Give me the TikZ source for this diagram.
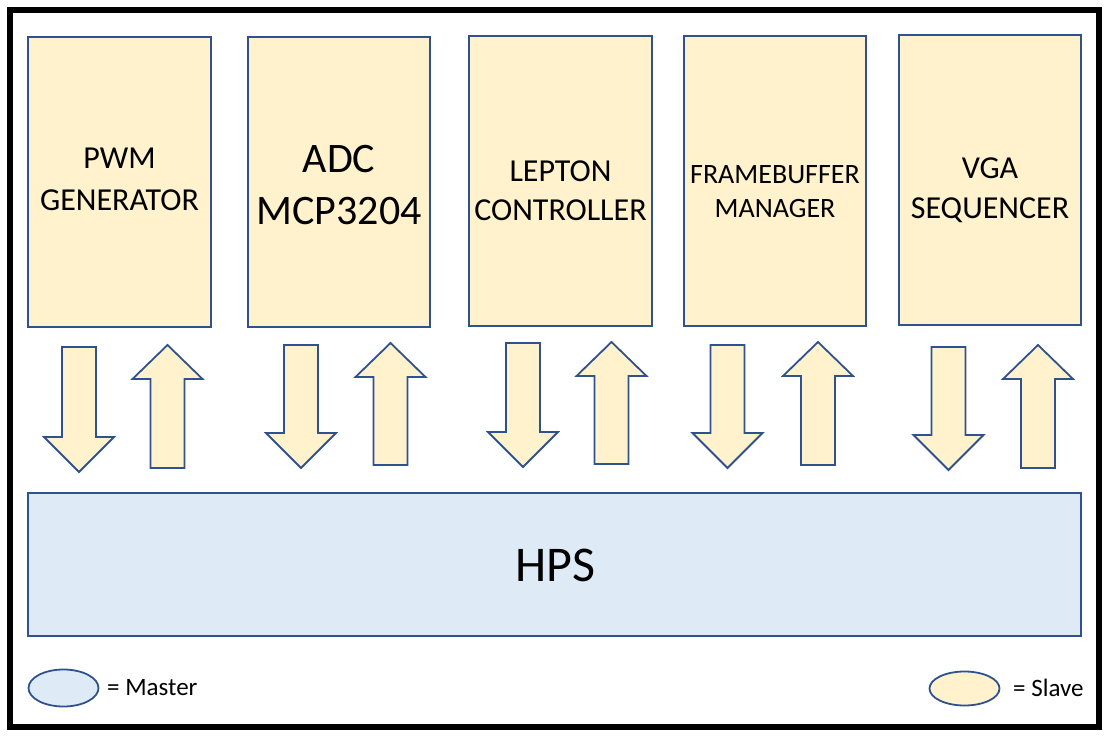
\documentclass[tikz,border=0pt]{standalone}
\usepackage{fontspec}
\setmainfont{Carlito}
\usetikzlibrary{shapes.geometric}
\definecolor{slavefill}{HTML}{FFF2CC}
\definecolor{masterfill}{HTML}{DEEBF7}
\definecolor{edgeblue}{HTML}{2F528F}
\newcommand{\dnarr}[4]{% cx, top, head, tip
  \draw[blockarrow] ({#1-17},#2) -- ({#1+17},#2) -- ({#1+17},#3) -- ({#1+35},#3) -- (#1,#4) -- ({#1-35},#3) -- ({#1-17},#3) -- cycle;}
\newcommand{\uparr}[4]{% cx, tip, head, bottom
  \draw[blockarrow] (#1,#2) -- ({#1+35},#3) -- ({#1+17},#3) -- ({#1+17},#4) -- ({#1-17},#4) -- ({#1-17},#3) -- ({#1-35},#3) -- cycle;}
\begin{document}
\begin{tikzpicture}[x=1pt,y=-1pt,
  slave/.style={draw=edgeblue, fill=slavefill, line width=1.8pt, inner sep=0pt},
  master/.style={draw=edgeblue, fill=masterfill, line width=1.8pt, inner sep=0pt},
  lbl/.style={align=center, text depth=0pt, inner sep=0pt},
  blockarrow/.style={draw=edgeblue, fill=slavefill, line width=1.8pt, line join=miter},
  keytext/.style={anchor=base west, inner sep=0pt, font=\fontsize{25}{30}\selectfont}]
\useasboundingbox (0,0) rectangle (1109,737);
\draw[line width=6pt] (10,10) rectangle (1099,727);

% slave blocks
\node[slave, minimum width=183pt, minimum height=290pt] (pwm) at (119.5,182) {};
\node[slave, minimum width=182pt, minimum height=290pt] (adc) at (339,182) {};
\node[slave, minimum width=183pt, minimum height=290pt] (lep) at (560.5,181) {};
\node[slave, minimum width=182pt, minimum height=290pt] (fb) at (775,181) {};
\node[slave, minimum width=182pt, minimum height=290pt] (vga) at (990,180) {};

\node[lbl, font=\fontsize{32}{42}\selectfont] (pwmL) at (119.5,179) {PWM\\GENERATOR};
\node[lbl, font=\fontsize{42}{52}\selectfont] (adcL) at (339,184.5) {ADC\\MCP3204};
\node[lbl, font=\fontsize{32}{39}\selectfont] (lepL) at (560.5,190.5) {LEPTON\\CONTROLLER};
\node[lbl, font=\fontsize{28}{34}\selectfont] (fbL) at (775,192) {FRAMEBUFFER\\MANAGER};
\node[lbl, font=\fontsize{32}{40}\selectfont] (vgaL) at (990,188) {VGA\\SEQUENCER};

% master block
\node[master, minimum width=1053pt, minimum height=143pt] (hps) at (554.5,564.5) {};
\node[lbl, font=\fontsize{50}{60}\selectfont] (hpsL) at (555.5,565.5) {HPS};

% block arrows
\dnarr{79}{347}{437}{472}
\uparr{167.5}{345}{379}{468}
\dnarr{301}{345}{433}{468}
\uparr{390.5}{343}{377}{465}
\dnarr{523}{343}{432}{467}
\uparr{611.5}{342}{376}{464}
\dnarr{727.5}{345}{433}{468}
\uparr{818}{342}{376}{465}
\dnarr{948.5}{347}{435}{470}
\uparr{1038}{345}{379}{468}

% legend
\node[master, ellipse, minimum width=70pt, minimum height=37pt] (mkey) at (63.5,688) {};
\node[keytext] (mtxt) at (107,695) {= Master};
\node[slave, ellipse, minimum width=70pt, minimum height=34pt] (skey) at (964.5,688.5) {};
\node[keytext] (stxt) at (1013,696) {= Slave};
\end{tikzpicture}
\end{document}
